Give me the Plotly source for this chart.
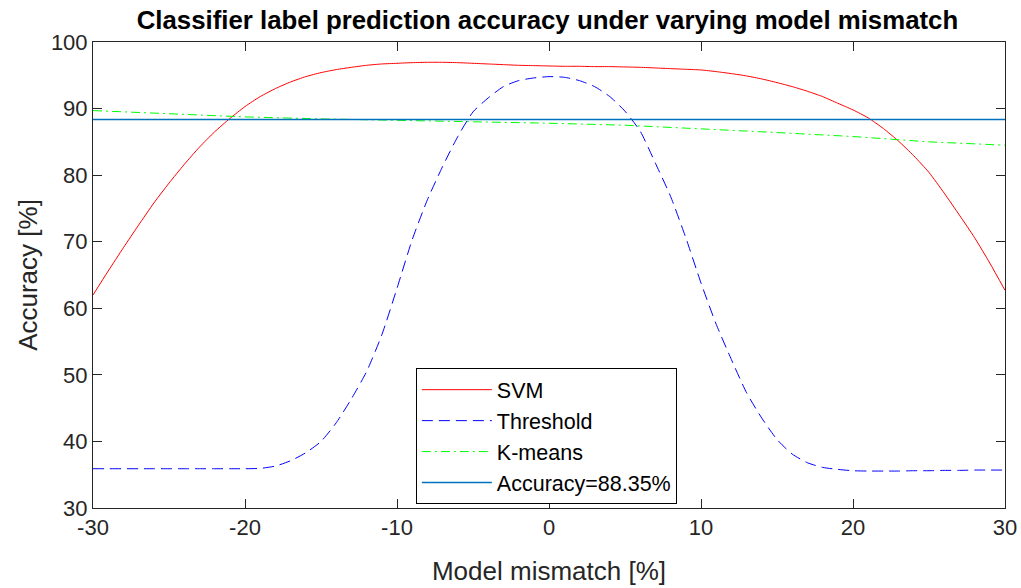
import plotly.graph_objects as go

x_svm = list(range(-30, 31))
svm = [62.0, 65.6, 69.1, 72.5, 75.8, 78.8, 81.6, 84.2, 86.5, 88.5, 90.3,
       91.8, 93.0, 94.0, 94.8, 95.4, 95.85, 96.2, 96.5, 96.7, 96.8,
       96.9, 96.95, 96.95, 96.9, 96.8, 96.7, 96.6, 96.5, 96.45, 96.4,
       96.35, 96.35, 96.3, 96.3, 96.25, 96.2, 96.1, 96.0, 95.9, 95.8,
       95.55, 95.25, 94.9, 94.45, 93.9, 93.3, 92.6, 91.8, 90.8, 89.8,
       88.6, 87.0, 85.1, 82.9, 80.4, 77.3, 74.0, 70.6, 66.8, 62.7]

x_thr = list(range(-30, 31))
thr = [35.9, 35.9, 35.9, 35.9, 35.9, 35.9, 35.9, 35.9, 35.9, 35.9, 35.9,
       35.95, 36.3, 37.1, 38.3, 40.0, 42.8, 46.4, 50.5, 56.0, 63.0,
       70.3, 76.3, 81.3, 85.8, 89.5, 91.6, 93.3, 94.2, 94.6, 94.8,
       94.7, 94.2, 93.3, 91.8, 89.6, 86.6, 81.8, 76.8, 70.6, 63.8,
       57.6, 52.3, 47.3, 43.5, 40.3, 38.1, 36.8, 36.1, 35.8, 35.6,
       35.55, 35.55, 35.55, 35.6, 35.6, 35.65, 35.65, 35.7, 35.7, 35.7]

x_km = [-30, -25, -20, -15, -10, -5, 0, 5, 10, 15, 20, 25, 30]
kmeans = [89.7, 89.2, 88.75, 88.45, 88.25, 88.0, 87.8, 87.5, 87.0, 86.4, 85.8, 85.0, 84.5]

acc_level = 88.35
x_acc = [-30, 30]

x_ticks = [-30, -20, -10, 0, 10, 20, 30]
y_ticks = [30, 40, 50, 60, 70, 80, 90, 100]

FONT = "Liberation Sans, Arial, Helvetica, sans-serif"
AX = "#262626"

fig = go.Figure()
fig.add_trace(go.Scatter(x=x_svm, y=svm, mode="lines", name="SVM",
                         line=dict(color="#FF0000", width=1, shape="spline", smoothing=0.6)))
fig.add_trace(go.Scatter(x=x_thr, y=thr, mode="lines", name="Threshold",
                         line=dict(color="#0000FF", width=1, dash="11px,6px",
                                   shape="spline", smoothing=0.6)))
fig.add_trace(go.Scatter(x=x_km, y=kmeans, mode="lines", name="K-means",
                         line=dict(color="#00FF00", width=1, dash="9px,4px,2px,4px")))
fig.add_trace(go.Scatter(x=x_acc, y=[acc_level] * len(x_acc), mode="lines",
                         name=f"Accuracy={acc_level:.2f}%",
                         line=dict(color="#0072BD", width=1.5)))

axis_common = dict(showline=True, mirror="ticks", linecolor=AX, linewidth=1,
                   ticks="inside", ticklen=9, tickcolor=AX, tickwidth=1,
                   showgrid=False, zeroline=False, automargin=False,
                   tickfont=dict(family=FONT, size=22, color=AX))

fig.update_layout(
    width=1021, height=588,
    margin=dict(l=93, r=16, t=42, b=80),
    paper_bgcolor="white", plot_bgcolor="white",
    title=dict(text="<b>Classifier label prediction accuracy under varying model mismatch</b>",
               x=0.5362, xanchor="center", y=0.9655, yanchor="middle",
               font=dict(family=FONT, size=25.8, color="black")),
    xaxis=dict(range=[-30, 30], tickvals=x_ticks, ticktext=[str(v) for v in x_ticks],
               title=dict(text="Model mismatch [%]", font=dict(family=FONT, size=26, color=AX),
                          standoff=22),
               **axis_common),
    yaxis=dict(range=[30, 100], tickvals=y_ticks, ticktext=[str(v) for v in y_ticks],
               title=dict(text="Accuracy [%]", font=dict(family=FONT, size=26, color=AX),
                          standoff=5),
               **axis_common),
    legend=dict(x=0.354, y=0.300, xanchor="left", yanchor="top",
                bordercolor="black", borderwidth=1, bgcolor="white",
                font=dict(family=FONT, size=21.5, color="black"),
                itemwidth=70),
    showlegend=True,
)

# remove the browser's default 8px body margin so the figure sits at the page origin
fig.write_html("out.html",
               config={"displayModeBar": False},
               post_script="document.body.style.margin='0';document.body.style.overflow='hidden';")
